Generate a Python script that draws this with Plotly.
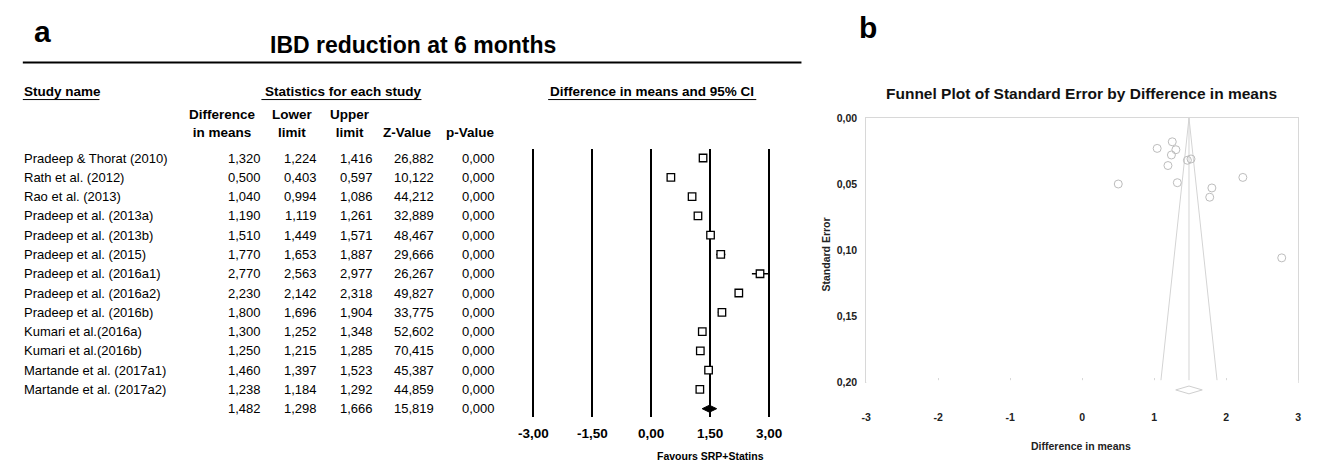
import plotly.graph_objects as go

# ---------------- data ----------------
studies = ["Pradeep & Thorat (2010)", "Rath et al. (2012)", "Rao et al. (2013)",
           "Pradeep et al. (2013a)", "Pradeep et al. (2013b)", "Pradeep et al. (2015)",
           "Pradeep et al. (2016a1)", "Pradeep et al. (2016a2)", "Pradeep et al. (2016b)",
           "Kumari et al.(2016a)", "Kumari et al.(2016b)", "Martande et al. (2017a1)",
           "Martande et al. (2017a2)"]
diff_means = [1.320, 0.500, 1.040, 1.190, 1.510, 1.770, 2.770, 2.230, 1.800, 1.300, 1.250, 1.460, 1.238]
lower_limit = [1.224, 0.403, 0.994, 1.119, 1.449, 1.653, 2.563, 2.142, 1.696, 1.252, 1.215, 1.397, 1.184]
upper_limit = [1.416, 0.597, 1.086, 1.261, 1.571, 1.887, 2.977, 2.318, 1.904, 1.348, 1.285, 1.523, 1.292]
z_values = [26.882, 10.122, 44.212, 32.889, 48.467, 29.666, 26.267, 49.827, 33.775, 52.602, 70.415, 45.387, 44.859]
p_values = [0.000, 0.000, 0.000, 0.000, 0.000, 0.000, 0.000, 0.000, 0.000, 0.000, 0.000, 0.000, 0.000]
summary = {"diff": 1.482, "lower": 1.298, "upper": 1.666, "z": 15.819, "p": 0.000}
std_errors = [0.049, 0.050, 0.023, 0.036, 0.031, 0.060, 0.106, 0.045, 0.053, 0.024, 0.018, 0.032, 0.028]

forest_tickvals = [-3.0, -1.5, 0.0, 1.5, 3.0]
forest_ticktext = ["-3,00", "-1,50", "0,00", "1,50", "3,00"]
funnel_xticks = [-3, -2, -1, 0, 1, 2, 3]
funnel_xticktext = ["-3", "-2", "-1", "0", "1", "2", "3"]
funnel_yticks = [0.00, 0.05, 0.10, 0.15, 0.20]
funnel_yticktext = ["0,00", "0,05", "0,10", "0,15", "0,20"]
funnel_se_max = 0.20

W, H = 1325, 470
FONT = "Liberation Sans, Arial, sans-serif"


def px(x):
    return x / W


def py(y):
    return 1 - y / H


def fmt(v):
    return f"{v:.3f}".replace(".", ",")


n = len(studies)
rows = list(range(n))
sum_row = n

fig = go.Figure()

# ---------------- forest plot ----------------
ci_x, ci_y = [], []
for i in rows:
    ci_x += [lower_limit[i], upper_limit[i], None]
    ci_y += [i, i, None]
fig.add_trace(go.Scatter(x=ci_x, y=ci_y, mode="lines", line=dict(color="black", width=1.5),
                         xaxis="x", yaxis="y", hoverinfo="skip"))
fig.add_trace(go.Scatter(x=diff_means, y=rows, mode="markers",
                         marker=dict(symbol="square", size=7.5, color="white",
                                     line=dict(color="black", width=1.3)),
                         xaxis="x", yaxis="y", cliponaxis=False))
dh = 0.18
fig.add_trace(go.Scatter(x=[summary["lower"], summary["diff"], summary["upper"], summary["diff"], summary["lower"]],
                         y=[sum_row, sum_row - dh, sum_row, sum_row + dh, sum_row],
                         mode="lines", fill="toself", fillcolor="black",
                         line=dict(color="black", width=1), xaxis="x", yaxis="y"))

# ---------------- funnel plot ----------------
fig.add_trace(go.Scatter(x=[summary["diff"] - 1.96 * funnel_se_max, summary["diff"],
                            summary["diff"] + 1.96 * funnel_se_max, None, summary["diff"], summary["diff"]],
                         y=[funnel_se_max, 0, funnel_se_max, None, 0, funnel_se_max],
                         mode="lines", line=dict(color="#d4d4d4", width=1), xaxis="x2", yaxis="y2"))
fig.add_trace(go.Scatter(x=diff_means, y=std_errors, mode="markers",
                         marker=dict(symbol="circle-open", size=8, color="#bdbdbd", line=dict(width=1)),
                         xaxis="x2", yaxis="y2", cliponaxis=False))
fig.add_trace(go.Scatter(x=[summary["lower"], summary["diff"], summary["upper"], summary["diff"], summary["lower"]],
                         y=[0, 0.4, 0, -0.4, 0], mode="lines",
                         line=dict(color="#cfcfcf", width=1), xaxis="x3", yaxis="y3"))

# ---------------- layout ----------------
annotations = []


def txt(text, x, y, size=12, bold=False, xanchor="center", yref="paper", color="black"):
    annotations.append(dict(text=text, x=x, y=y, xref="paper", yref=yref, xanchor=xanchor,
                            yanchor="middle", showarrow=False, borderpad=0,
                            font=dict(family=FONT, size=size, color=color,
                                      weight="bold" if bold else "normal")))


HS = 13.5  # header size
# panel letters and titles
txt("a", px(30), py(26), size=30, bold=True)
txt("b", px(871), py(22), size=30, bold=True)
txt("IBD reduction at 6 months", px(407), py(40), size=23, bold=True)
txt("Study name", px(10), py(88), size=HS, bold=True, xanchor="left")
txt("Statistics for each study", px(337), py(88), size=HS, bold=True)
txt("Difference in means and 95% CI", px(651), py(88), size=HS, bold=True)
txt("Difference<br>in means", px(213), py(121), size=HS, bold=True)
txt("Lower<br>limit", px(285), py(121), size=HS, bold=True)
txt("Upper<br>limit", px(343), py(121), size=HS, bold=True)
txt("Z-Value", px(402), py(130), size=HS, bold=True)
txt("p-Value", px(466), py(130), size=HS, bold=True)
txt("Favours SRP+Statins", px(710), py(462), size=10.5, bold=True)

# table body
col_right = [254, 311, 368, 430, 492]
for i in rows:
    txt(studies[i], px(10), i, size=13, xanchor="left", yref="y")
    for cx, v in zip(col_right, [diff_means[i], lower_limit[i], upper_limit[i], z_values[i], p_values[i]]):
        txt(fmt(v), px(cx), i, size=13, xanchor="right", yref="y")
for cx, v in zip(col_right, [summary["diff"], summary["lower"], summary["upper"], summary["z"], summary["p"]]):
    txt(fmt(v), px(cx), sum_row, size=13, xanchor="right", yref="y")

# funnel texts
txt("Funnel Plot of Standard Error by Difference in means", px(1088), py(90), size=15.5, bold=True, color="#111")
txt("Difference in means", px(1088), py(452), size=10.5, bold=True, color="#222")
annotations.append(dict(text="Standard Error", x=px(828), y=py(255), xref="paper", yref="paper",
                        showarrow=False, textangle=-90,
                        font=dict(family=FONT, size=10.5, color="#222", weight="bold")))

shapes = [
    dict(type="line", xref="paper", yref="paper", x0=px(10), x1=px(803), y0=py(58), y1=py(58),
         line=dict(color="black", width=2)),
    dict(type="line", xref="paper", yref="paper", x0=px(10), x1=px(88), y0=py(96), y1=py(96),
         line=dict(color="black", width=1)),
    dict(type="line", xref="paper", yref="paper", x0=px(253), x1=px(416), y0=py(96), y1=py(96),
         line=dict(color="black", width=1)),
    dict(type="line", xref="paper", yref="paper", x0=px(545), x1=px(757), y0=py(96), y1=py(96),
         line=dict(color="black", width=1)),
]

row_px0, row_step = 156.0, 19.79
y_top_px, y_bot_px = 147.0, 422.0

fig.update_layout(
    width=W, height=H, margin=dict(l=0, r=0, t=0, b=0),
    paper_bgcolor="white", plot_bgcolor="white", showlegend=False,
    font=dict(family=FONT, color="black"),
    annotations=annotations, shapes=shapes,
    xaxis=dict(domain=[px(528), px(772)], range=[-3.05, 3.05], anchor="y",
               tickvals=forest_tickvals, ticktext=forest_ticktext,
               showgrid=True, gridcolor="black", gridwidth=2, zeroline=False, showline=False,
               ticks="", ticklabelstandoff=6,
               tickfont=dict(family=FONT, size=13.5, color="black", weight="bold")),
    yaxis=dict(domain=[py(y_bot_px), py(y_top_px)],
               range=[(y_bot_px - row_px0) / row_step, (y_top_px - row_px0) / row_step],
               anchor="x", visible=False, showgrid=False, zeroline=False),
    xaxis2=dict(domain=[px(869), px(1309)], range=[-3, 3], anchor="y2",
                tickvals=funnel_xticks, ticktext=funnel_xticktext,
                showline=True, mirror=True, linecolor="#d8d8d8", linewidth=1,
                ticks="inside", ticklen=4, tickcolor="#d8d8d8", showgrid=False, zeroline=False,
                ticklabelstandoff=26,
                tickfont=dict(family=FONT, size=10.5, color="#222", weight="bold")),
    yaxis2=dict(domain=[py(385.7), py(115)], range=[0.20, 0.0], anchor="x2",
                tickvals=funnel_yticks, ticktext=funnel_yticktext,
                showline=True, mirror=True, linecolor="#d8d8d8", linewidth=1,
                ticks="", showgrid=False, zeroline=False, ticklabelstandoff=6,
                tickfont=dict(family=FONT, size=10.5, color="#222", weight="bold")),
    xaxis3=dict(domain=[px(869), px(1309)], range=[-3, 3], anchor="y3", visible=False),
    yaxis3=dict(domain=[py(404), py(384)], range=[-1, 1], anchor="x3", visible=False),
)

fig.write_html("out.html", config={"displayModeBar": False},
               post_script="document.body.style.margin='0';")
